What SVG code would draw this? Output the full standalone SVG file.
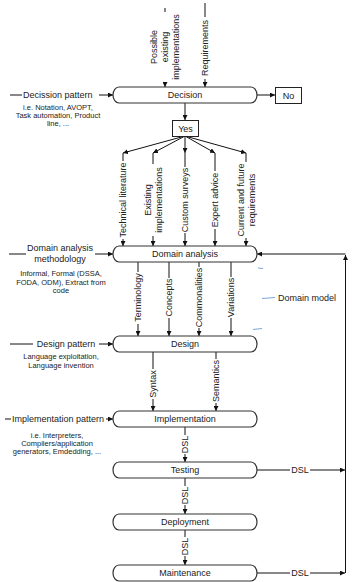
<svg xmlns="http://www.w3.org/2000/svg" width="356" height="582" viewBox="0 0 356 582">
<style>
  text { font-family: "Liberation Sans", Arial, sans-serif; fill: #222; }
  .lbl { font-size: 9px; }
  .sm { font-size: 7.5px; }
  .mid { text-anchor: middle; }
  .node { fill: #fff; stroke: #333; stroke-width: 1.2; }
  .box { fill: #fff; stroke: #222; stroke-width: 1; }
  .c { fill: none; stroke: #111; stroke-width: 1; }
  .a { marker-end: url(#ah); }
  .blue { stroke: #7aa7d6; stroke-width: 1; fill: none; }
</style>
<defs>
  <marker id="ah" viewBox="0 0 6 6" refX="6" refY="3" markerWidth="5" markerHeight="5" orient="auto" markerUnits="userSpaceOnUse">
    <path d="M0,0 L6,3 L0,6 z" fill="#111"/>
  </marker>
</defs>

<g id="connectors">
  <!-- top inputs -->
  <line class="c" x1="165" y1="8" x2="165" y2="12"/>
  <line class="c a" x1="165" y1="82" x2="165" y2="87"/>
  <text class="lbl mid" transform="translate(165,47) rotate(-90)"><tspan x="0" dy="-0.87em">Possible</tspan><tspan x="0" dy="1.22em">existing</tspan><tspan x="0" dy="1.22em">implementations</tspan></text>
  <line class="c" x1="205" y1="3" x2="205" y2="17"/>
  <line class="c a" x1="205" y1="79" x2="205" y2="87"/>
  <text class="lbl mid" transform="translate(205,48) rotate(-90)" dy="0.35em">Requirements</text>

  <!-- decision outputs -->
  <line class="c a" x1="257" y1="95" x2="275" y2="95"/>
  <line class="c a" x1="185" y1="103" x2="185" y2="120"/>

  <!-- fan from Yes -->
  <line class="c a" x1="185" y1="136" x2="123" y2="153"/>
  <line class="c a" x1="185" y1="136" x2="153" y2="153"/>
  <line class="c a" x1="185" y1="136" x2="185" y2="153"/>
  <line class="c a" x1="185" y1="136" x2="215" y2="153"/>
  <line class="c a" x1="185" y1="136" x2="246" y2="153"/>

  <line class="c" x1="123" y1="153" x2="123" y2="161"/>
  <line class="c a" x1="123" y1="239" x2="123" y2="246"/>
  <text class="lbl mid" transform="translate(123,200) rotate(-90)" dy="0.35em">Technical literature</text>

  <line class="c" x1="153" y1="153" x2="153" y2="164"/>
  <line class="c a" x1="153" y1="236" x2="153" y2="246"/>
  <text class="lbl mid" transform="translate(153,200) rotate(-90)"><tspan x="0" dy="-0.26em">Existing</tspan><tspan x="0" dy="1.22em">implementations</tspan></text>

  <line class="c" x1="185" y1="153" x2="185" y2="167"/>
  <line class="c a" x1="185" y1="233" x2="185" y2="246"/>
  <text class="lbl mid" transform="translate(185,200) rotate(-90)" dy="0.35em">Custom surveys</text>

  <line class="c" x1="215" y1="153" x2="215" y2="171"/>
  <line class="c a" x1="215" y1="229" x2="215" y2="246"/>
  <text class="lbl mid" transform="translate(215,200) rotate(-90)" dy="0.35em">Expert advice</text>

  <line class="c" x1="246" y1="153" x2="246" y2="162"/>
  <line class="c a" x1="246" y1="238" x2="246" y2="246"/>
  <text class="lbl mid" transform="translate(246,200) rotate(-90)"><tspan x="0" dy="-0.26em">Current and future</tspan><tspan x="0" dy="1.22em">requirements</tspan></text>

  <!-- domain analysis outputs -->
  <line class="c" x1="138" y1="262" x2="138" y2="272"/>
  <line class="c a" x1="138" y1="324" x2="138" y2="336"/>
  <text class="lbl mid" transform="translate(138,297.5) rotate(-90)" dy="0.35em">Terminology</text>
  <line class="c" x1="169" y1="262" x2="169" y2="278"/>
  <line class="c a" x1="169" y1="318" x2="169" y2="336"/>
  <text class="lbl mid" transform="translate(169,297.5) rotate(-90)" dy="0.35em">Concepts</text>
  <line class="c" x1="199" y1="262" x2="199" y2="267"/>
  <line class="c a" x1="199" y1="328" x2="199" y2="336"/>
  <text class="lbl mid" transform="translate(199,297.5) rotate(-90)" dy="0.35em">Commonalities</text>
  <line class="c" x1="231" y1="262" x2="231" y2="277"/>
  <line class="c a" x1="231" y1="318" x2="231" y2="336"/>
  <text class="lbl mid" transform="translate(231,297.5) rotate(-90)" dy="0.35em">Variations</text>

  <!-- design outputs -->
  <line class="c" x1="153" y1="352" x2="153" y2="369"/>
  <line class="c a" x1="153" y1="399" x2="153" y2="411"/>
  <text class="lbl mid" transform="translate(153,384) rotate(-90)" dy="0.35em">Syntax</text>
  <line class="c" x1="216" y1="352" x2="216" y2="359"/>
  <line class="c a" x1="216" y1="403" x2="216" y2="411"/>
  <text class="lbl mid" transform="translate(216,381) rotate(-90)" dy="0.35em">Semantics</text>

  <!-- DSL chain -->
  <line class="c" x1="185" y1="427" x2="185" y2="435"/>
  <line class="c a" x1="185" y1="454" x2="185" y2="462"/>
  <text class="lbl mid" transform="translate(185,444.5) rotate(-90)" dy="0.35em">DSL</text>
  <line class="c" x1="185" y1="478" x2="185" y2="486"/>
  <line class="c a" x1="185" y1="505" x2="185" y2="514"/>
  <text class="lbl mid" transform="translate(185,495.5) rotate(-90)" dy="0.35em">DSL</text>
  <line class="c" x1="185" y1="530" x2="185" y2="537"/>
  <line class="c a" x1="185" y1="556" x2="185" y2="565"/>
  <text class="lbl mid" transform="translate(185,546.5) rotate(-90)" dy="0.35em">DSL</text>

  <!-- feedback -->
  <line class="c" x1="257" y1="470" x2="290" y2="470"/>
  <line class="c a" x1="310" y1="470" x2="345" y2="470"/>
  <text class="lbl mid" x="300" y="473">DSL</text>
  <line class="c" x1="257" y1="573" x2="290" y2="573"/>
  <line class="c a" x1="310" y1="573" x2="345" y2="573"/>
  <text class="lbl mid" x="300" y="576">DSL</text>
  <line class="c a" x1="345.5" y1="573" x2="345.5" y2="255"/>
  <line class="c a" x1="345.5" y1="254" x2="257" y2="254"/>

  <!-- left inputs -->
  <line class="c" x1="10" y1="95" x2="22" y2="95"/>
  <text class="lbl" x="23" y="98">Decission pattern</text>
  <line class="c a" x1="99" y1="95" x2="113" y2="95"/>
  <text class="sm mid" x="58" y="110">i.e. Notation, AVOPT,</text>
  <text class="sm mid" x="58" y="118">Task automation, Product</text>
  <text class="sm mid" x="58" y="126">line, ...</text>

  <line class="c" x1="9" y1="254" x2="26" y2="254"/>
  <text class="lbl mid" x="60" y="251">Domain analysis</text>
  <text class="lbl mid" x="60" y="262">methodology</text>
  <line class="c a" x1="95" y1="254" x2="113" y2="254"/>
  <text class="sm mid" x="61" y="275.5">Informal, Formal (DSSA,</text>
  <text class="sm mid" x="61" y="284.5">FODA, ODM), Extract from</text>
  <text class="sm mid" x="61" y="292.5">code</text>

  <line class="c" x1="10" y1="344" x2="33" y2="344"/>
  <text class="lbl mid" x="66" y="347">Design pattern</text>
  <line class="c a" x1="99" y1="344" x2="113" y2="344"/>
  <text class="sm mid" x="61" y="358.5">Language exploitation,</text>
  <text class="sm mid" x="61" y="367.5">Language invention</text>

  <line class="c" x1="5" y1="419" x2="11" y2="419"/>
  <text class="lbl" x="12" y="422">Implementation pattern</text>
  <line class="c a" x1="106" y1="419" x2="113" y2="419"/>
  <text class="sm mid" x="57" y="437.5">i.e. Interpreters,</text>
  <text class="sm mid" x="57" y="445.5">Compilers/application</text>
  <text class="sm mid" x="57" y="453.5">generators, Emdedding, ...</text>

  <!-- legend -->
  <line class="blue" x1="262" y1="298.5" x2="275" y2="297.5"/>
  <text class="lbl" x="278" y="301">Domain model</text>
  <line class="blue" x1="253" y1="329.5" x2="262" y2="328.5"/>
  <line class="blue" x1="258" y1="268" x2="263" y2="268.5"/>
</g>

<g id="decision">
  <rect class="node" x="113" y="87" width="144" height="16" rx="6" ry="8"/>
  <text class="lbl mid" x="185" y="98.2">Decision</text>
</g>
<g id="no">
  <rect class="box" x="275.5" y="87.5" width="26" height="16"/>
  <text class="lbl mid" x="288.5" y="98.7">No</text>
</g>
<g id="yes">
  <rect class="box" x="172.5" y="120.5" width="26" height="16"/>
  <text class="lbl mid" x="185.5" y="131.7">Yes</text>
</g>
<g id="domain-analysis">
  <rect class="node" x="113" y="246" width="144" height="16" rx="6" ry="8"/>
  <text class="lbl mid" x="185" y="257.2">Domain analysis</text>
</g>
<g id="design">
  <rect class="node" x="113" y="336" width="144" height="16" rx="6" ry="8"/>
  <text class="lbl mid" x="185" y="347.2">Design</text>
</g>
<g id="implementation">
  <rect class="node" x="113" y="411" width="144" height="16" rx="6" ry="8"/>
  <text class="lbl mid" x="185" y="422.2">Implementation</text>
</g>
<g id="testing">
  <rect class="node" x="113" y="462" width="144" height="16" rx="6" ry="8"/>
  <text class="lbl mid" x="185" y="473.2">Testing</text>
</g>
<g id="deployment">
  <rect class="node" x="113" y="514" width="144" height="16" rx="6" ry="8"/>
  <text class="lbl mid" x="185" y="525.2">Deployment</text>
</g>
<g id="maintenance">
  <rect class="node" x="113" y="565" width="144" height="16" rx="6" ry="8"/>
  <text class="lbl mid" x="185" y="576.2">Maintenance</text>
</g>
</svg>
